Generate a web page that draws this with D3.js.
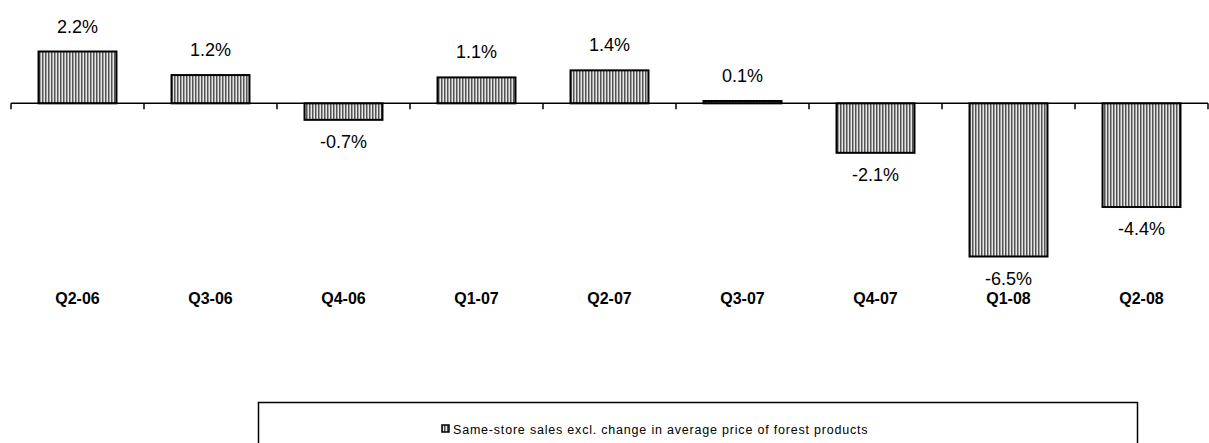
<!DOCTYPE html>
<html>
<head>
<meta charset="utf-8">
<script src="https://cdn.jsdelivr.net/npm/d3@7"></script>
<style>
  html, body { margin: 0; padding: 0; background: #fff; }
  svg { display: block; font-family: Arial, "Liberation Sans", sans-serif; }
</style>
</head>
<body>
<svg id="chart" width="1209" height="443"></svg>
<script>
const categories = ["Q2-06", "Q3-06", "Q4-06", "Q1-07", "Q2-07", "Q3-07", "Q4-07", "Q1-08", "Q2-08"];
const values = [2.2, 1.2, -0.7, 1.1, 1.4, 0.1, -2.1, -6.5, -4.4];
const seriesName = "Same-store sales excl. change in average price of forest products";

const svg = d3.select("#chart");

// vertical hatch fill used by the bars and legend swatch
const defs = svg.append("defs");
const pat = defs.append("pattern")
  .attr("id", "vstripe")
  .attr("patternUnits", "userSpaceOnUse")
  .attr("width", 3).attr("height", 10);
pat.append("rect").attr("width", 3).attr("height", 10).attr("fill", "#e6e6e6");
pat.append("rect").attr("x", 0).attr("width", 1.5).attr("height", 10).attr("fill", "#555");

const x = d3.scaleBand().domain(categories).range([11, 1208]).paddingInner(0.414).paddingOuter(0.207);
const y = d3.scaleLinear().domain([-6.5, 2.2]).range([256.5, 51.5]);
const y0 = y(0);

// bars
svg.append("g").selectAll("rect")
  .data(values)
  .join("rect")
  .attr("x", (d, i) => x(categories[i]))
  .attr("width", x.bandwidth())
  .attr("y", d => Math.min(y(d), y0))
  .attr("height", d => Math.abs(y(d) - y0))
  .attr("fill", "url(#vstripe)")
  .attr("stroke", "#000")
  .attr("stroke-width", 2);

// category axis on the zero line, ticks between categories
const step = x.step();
const axisG = svg.append("g");
axisG.append("line")
  .attr("x1", 11).attr("x2", 1208)
  .attr("y1", y0).attr("y2", y0)
  .attr("stroke", "#000").attr("stroke-width", 1.5);
axisG.selectAll("line.tick")
  .data(d3.range(categories.length + 1))
  .join("line")
  .attr("class", "tick")
  .attr("x1", i => 11 + i * step).attr("x2", i => 11 + i * step)
  .attr("y1", y0).attr("y2", y0 + 6)
  .attr("stroke", "#000").attr("stroke-width", 1.5);

// value labels
svg.append("g").selectAll("text")
  .data(values)
  .join("text")
  .attr("x", (d, i) => x(categories[i]) + x.bandwidth() / 2)
  .attr("y", d => d >= 0 ? y(d) - 19 : y(d) + 28)
  .attr("text-anchor", "middle")
  .attr("font-size", 18)
  .attr("fill", "#000")
  .text(d => d.toFixed(1) + "%");

// category labels
svg.append("g").selectAll("text")
  .data(categories)
  .join("text")
  .attr("x", d => x(d) + x.bandwidth() / 2)
  .attr("y", 304)
  .attr("text-anchor", "middle")
  .attr("font-size", 16)
  .attr("font-weight", "bold")
  .text(d => d);

// legend
const lg = svg.append("g");
lg.append("rect")
  .attr("x", 258.5).attr("y", 402.5)
  .attr("width", 879).attr("height", 60)
  .attr("fill", "#fff").attr("stroke", "#000").attr("stroke-width", 1.5);
lg.append("rect")
  .attr("x", 442).attr("y", 425)
  .attr("width", 7).attr("height", 7)
  .attr("fill", "url(#vstripe)").attr("stroke", "#000").attr("stroke-width", 1.5);
lg.append("text")
  .attr("x", 453).attr("y", 434)
  .attr("font-size", 12.5)
  .attr("letter-spacing", 0.8)
  .text(seriesName);
</script>
</body>
</html>
